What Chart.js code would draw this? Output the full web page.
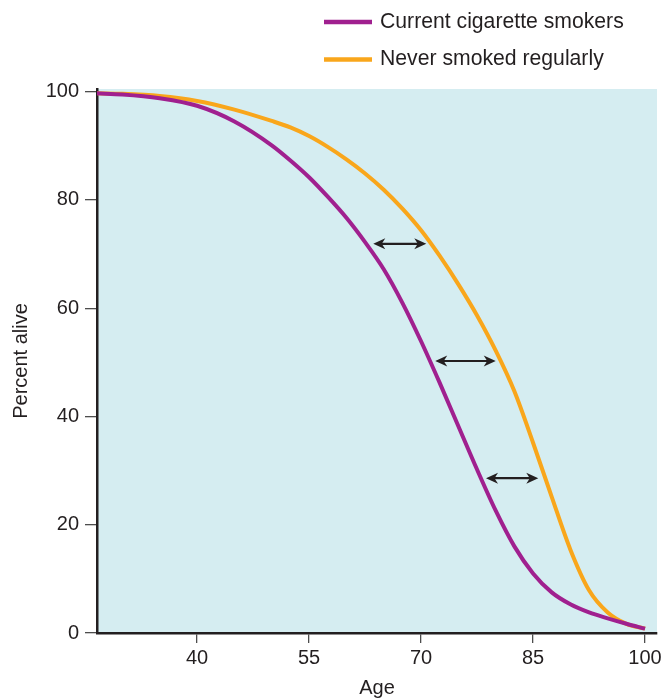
<!DOCTYPE html>
<html>
<head>
<meta charset="utf-8">
<title>Percent alive by age</title>
<script src="https://cdn.jsdelivr.net/npm/chart.js@4"></script>
<style>html,body{margin:0;padding:0;background:#fff}#wrap{width:665px;height:700px}</style>
</head>
<body>
<div id="wrap"><canvas id="chart" width="665" height="700"></canvas></div>
<script>
const ages = [26.6, 30, 35, 40, 45, 50, 52.5, 55, 57.5, 60, 62.5, 65, 67.5, 70, 72.5, 75, 77.5, 80, 82.5, 85, 87.5, 90, 92.5, 95, 97.5, 100];
const smokers = [99.7, 99.5, 98.8, 97.4, 94.5, 90.1, 87.3, 84.2, 80.6, 76.7, 72.2, 67.2, 61.0, 53.9, 46.2, 38.2, 30.2, 22.6, 16.0, 11.0, 7.5, 5.3, 3.8, 2.7, 1.7, 0.8];
const neverSmoked = [99.7, 99.6, 99.2, 98.3, 96.7, 94.6, 93.4, 91.8, 89.8, 87.5, 84.9, 81.9, 78.4, 74.4, 69.65, 64.4, 58.65, 52.15, 44.65, 35.15, 25.15, 15.4, 7.9, 3.8, 1.7, 0.8];
const seriesLabels = ['Current cigarette smokers', 'Never smoked regularly'];
const seriesColors = ['#a0208f', '#f9a61b'];
const xTicks = [40, 55, 70, 85, 100];
const yTicks = [0, 20, 40, 60, 80, 100];
// gap arrows: percent alive, from age, to age
const arrowRows = [[71.9, 63.6, 70.7], [50.25, 71.9, 80.0], [28.6, 78.7, 85.7]];

const font = { family: '"Liberation Sans", Arial, sans-serif', size: 20 };
const ink = '#231f20';

const paperPlugin = {
  id: 'paper',
  beforeDraw(chart) {
    const a = chart.chartArea, ctx = chart.ctx;
    ctx.save();
    ctx.fillStyle = '#d5edf1';
    ctx.fillRect(a.left, a.top, a.right - a.left, a.bottom - a.top);
    ctx.restore();
  },
  afterDatasetsDraw(chart) {
    const ctx = chart.ctx, xs = chart.scales.x, ys = chart.scales.y;
    ctx.save();
    ctx.strokeStyle = ink;
    ctx.fillStyle = ink;
    ctx.lineWidth = 2.2;
    arrowRows.forEach(r => {
      const y = ys.getPixelForValue(r[0]);
      const x1 = xs.getPixelForValue(r[1]);
      const x2 = xs.getPixelForValue(r[2]);
      ctx.beginPath();
      ctx.moveTo(x1 + 6, y);
      ctx.lineTo(x2 - 6, y);
      ctx.stroke();
      [[x1, 1], [x2, -1]].forEach(h => {
        const tx = h[0], d = h[1];
        ctx.beginPath();
        ctx.moveTo(tx, y);
        ctx.lineTo(tx + d * 12, y - 5.5);
        ctx.lineTo(tx + d * 8.5, y);
        ctx.lineTo(tx + d * 12, y + 5.5);
        ctx.closePath();
        ctx.fill();
      });
    });
    ctx.restore();
  },
  afterDraw(chart) {
    const ctx = chart.ctx;
    ctx.save();
    ctx.font = '21.2px ' + font.family;
    ctx.textBaseline = 'middle';
    ctx.fillStyle = ink;
    chart.data.datasets.forEach((ds, i) => {
      const y = 22 + i * 37.5;
      ctx.strokeStyle = ds.borderColor;
      ctx.lineWidth = 4.5;
      ctx.beginPath();
      ctx.moveTo(324, y);
      ctx.lineTo(372, y);
      ctx.stroke();
      ctx.fillText(ds.label, 380, y);
    });
    ctx.restore();
  }
};

new Chart(document.getElementById('chart'), {
  type: 'line',
  data: {
    labels: ages,
    datasets: [
      { label: seriesLabels[0], data: ages.map((a, i) => ({ x: a, y: smokers[i] })), borderColor: seriesColors[0], borderWidth: 4, pointRadius: 0, cubicInterpolationMode: 'monotone', fill: false },
      { label: seriesLabels[1], data: ages.map((a, i) => ({ x: a, y: neverSmoked[i] })), borderColor: seriesColors[1], borderWidth: 4, pointRadius: 0, cubicInterpolationMode: 'monotone', fill: false }
    ]
  },
  options: {
    responsive: false,
    animation: false,
    devicePixelRatio: 1,
    layout: { padding: { top: 89, right: 8, left: 0, bottom: 0 } },
    plugins: { legend: { display: false }, tooltip: { enabled: false } },
    scales: {
      x: {
        type: 'linear', min: 26.6, max: 101.6,
        afterBuildTicks: s => { s.ticks = xTicks.map(v => ({ value: v })); },
        afterFit: s => { s.height = 67; },
        ticks: { font: font, color: ink, padding: 3, maxRotation: 0, autoSkip: false },
        grid: { drawOnChartArea: false, drawTicks: true, tickLength: 10, color: '#4d4d4d', lineWidth: 1.3 },
        border: { display: true, color: ink, width: 2.5 },
        title: { display: true, text: 'Age', font: font, color: ink, padding: { top: 0, bottom: 0 } }
      },
      y: {
        min: 0, max: 100.5,
        afterBuildTicks: s => { s.ticks = yTicks.map(v => ({ value: v })); },
        afterFit: s => { s.width = 97; },
        ticks: { font: font, color: ink, padding: 6 },
        grid: { drawOnChartArea: false, drawTicks: true, tickLength: 12, color: '#4d4d4d', lineWidth: 1.3 },
        border: { display: true, color: ink, width: 2.5 },
        title: { display: true, text: 'Percent alive', font: font, color: ink, padding: { top: 9, bottom: 0 } }
      }
    }
  },
  plugins: [paperPlugin]
});
</script>
</body>
</html>
